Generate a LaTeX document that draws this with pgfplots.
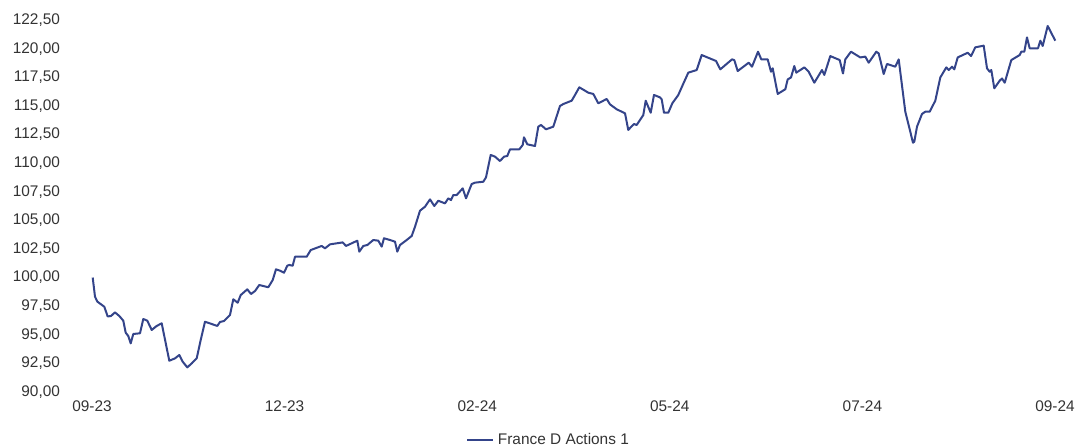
\documentclass[border=0pt]{standalone}
\usepackage{fontspec}
\setmainfont{Liberation Sans}
\usepackage{pgfplots}
\pgfplotsset{compat=1.18}
\definecolor{navy}{RGB}{52,68,138}
\definecolor{txt}{RGB}{51,51,51}
\begin{document}
\begin{tikzpicture}
\begin{axis}[
  scale only axis,
  width=496.5pt, height=186pt,
  xmin=-25, xmax=968,
  ymin=90, ymax=122.5,
  axis line style={draw=none},
  major tick length=0pt,
  xtick={0,192.6,385.2,577.8,770.4,963},
  xticklabels={09-23,12-23,02-24,05-24,07-24,09-24},
  ytick={90,92.5,95,97.5,100,102.5,105,107.5,110,112.5,115,117.5,120,122.5},
  yticklabel style={/pgf/number format/.cd,fixed,fixed zerofill,precision=2,use comma,assume math mode=true},
  ticklabel style={font=\fontsize{7.7}{9}\selectfont, text=txt},
  xticklabel style={yshift=-1pt},
  legend style={at={(0.486,-0.130)}, anchor=center, draw=none, fill=none,
    font=\fontsize{7.7}{9}\selectfont, text=txt},
  legend cell align=left,
  legend image post style={xscale=0.75},
]
\addplot[navy, line width=1pt, line join=round] coordinates {
(0.7,100.0)(3,98.33)(5.3,97.9)(12.3,97.45)(15.7,96.6)(19,96.64)(23,96.96)(27.3,96.64)
(31.3,96.23)(33.7,95.18)(36.3,94.89)(38.7,94.25)(41.3,95.07)(48,95.13)(51.3,96.38)(55.3,96.23)
(59.7,95.42)(64.7,95.77)(69.7,96.0)(77.3,92.73)(83,92.94)(87.3,93.23)(90.7,92.65)(95.3,92.15)
(99.7,92.5)(104.7,92.94)(108.7,94.54)(113,96.14)(119.7,95.94)(125.3,95.77)(128,96.12)(132,96.2)
(138,96.73)(141.3,98.1)(145.7,97.8)(148.7,98.47)(155.3,98.97)(159,98.56)(163,98.82)(167.3,99.35)
(176.3,99.15)(180.7,99.78)(184,100.72)(188,100.6)(192,100.42)(195.3,101.03)(197.3,101.1)(200.7,101.03)
(203,101.82)(214.7,101.82)(218.7,102.4)(229.7,102.76)(233,102.55)(238,102.9)(250.7,103.07)(254,102.76)
(265.3,103.22)(267.3,102.26)(271.3,102.76)(275.3,102.84)(281.3,103.28)(286.3,103.22)(289.7,102.7)(292,103.43)
(298,103.28)(303,103.13)(305.3,102.26)(308,102.84)(314.7,103.28)(319.7,103.63)(323,104.44)(328,105.84)
(333,106.19)(338,106.83)(342.3,106.25)(346.3,106.71)(353,106.48)(356.3,106.92)(359,106.77)(361.3,107.21)
(364.7,107.21)(370.7,107.79)(374,106.92)(379.7,108.17)(383,108.29)(391.3,108.37)(394,108.75)(398.7,110.71)
(403,110.56)(408,110.18)(412,110.56)(415.3,110.62)(418,111.2)(427.3,111.2)(430.7,111.58)(432,112.25)
(435.3,111.64)(443,111.49)(446.3,113.18)(449,113.33)(454,112.95)(461.3,113.18)(468,114.99)(471.3,115.16)
(479.7,115.45)(483,115.95)(487.3,116.62)(496.3,116.15)(501.3,116.04)(506.3,115.22)(510.7,115.42)(514.7,115.6)
(518,115.13)(524.7,114.7)(533,114.35)(536.3,112.89)(538.7,113.13)(542,113.41)(544.7,113.33)(551.3,114.2)
(553.7,115.45)(558.7,114.4)(562,115.95)(568,115.74)(569.7,115.57)(572,114.4)(576.3,114.4)(580.3,115.22)
(586.3,115.95)(590.7,116.82)(596.3,117.9)(604.7,118.13)(609.7,119.44)(624,118.92)(628.3,118.19)
(640,119.06)(642.3,119.0)(645.7,118.04)(656.7,118.77)(660,118.42)(666,119.73)(669.3,119.06)(675.7,119.06)
(679,117.98)(680.7,118.28)(685.7,116.04)(693.3,116.45)(695.7,117.31)(699,117.48)(702.3,118.48)(704.3,117.9)
(712.3,118.36)(716.7,117.98)(722.3,117.02)(730,118.13)(732.3,117.7)(738.3,119.35)(747.7,119.0)(751,117.83)
(753.3,119.06)(759,119.73)(768.3,119.23)(773.3,119.3)(776.7,118.77)(784.3,119.73)(786.7,119.58)(791.7,117.78)
(795,118.66)(803.3,118.42)(806.7,119.06)(813.3,114.49)(821,111.78)(822.3,111.87)(825,113.18)(830,114.29)
(833.3,114.49)(837.7,114.49)(843.3,115.45)(848.3,117.48)(854.3,118.36)(856.7,118.13)(860,118.42)(862.3,118.19)
(865.7,119.23)(875.7,119.64)(879,119.35)(883.3,120.11)(891.7,120.26)(895,118.28)(897.7,117.98)(899.3,118.13)
(902.3,116.53)(907.7,117.2)(910,117.39)(912.7,117.02)(919.3,119.0)(927.7,119.44)(929.3,119.73)(932.3,119.73)
(935,120.98)(937.7,120.03)(946,120.03)(948.3,120.69)(950.7,120.23)(955.7,121.98)(963.3,120.69)
};
\addlegendentry{France D Actions 1}
\end{axis}
\pgfresetboundingbox
\useasboundingbox (-33.5pt,-27pt) rectangle (505pt,196pt);
\end{tikzpicture}
\end{document}
